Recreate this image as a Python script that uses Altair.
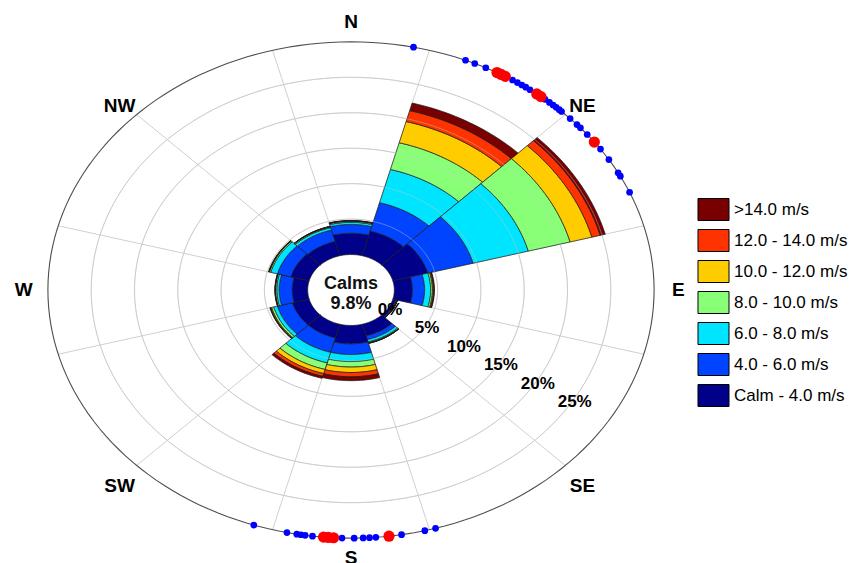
import math
import altair as alt
import pandas as pd

# ---------------- data ----------------
directions = [0, 30, 60, 90, 120, 150, 180, 210, 240, 270, 300, 330]
speed_bins = ["Calm - 4.0 m/s", "4.0 - 6.0 m/s", "6.0 - 8.0 m/s", "8.0 - 10.0 m/s",
              "10.0 - 12.0 m/s", "12.0 - 14.0 m/s", ">14.0 m/s"]
bin_colors = ["#000088", "#0044ff", "#00e5ff", "#88ff77", "#ffcc00", "#ff3300", "#780000"]

# frequency (%) of each speed class per direction sector
freq_calm_4 = [3.0, 3.6, 4.2, 2.1, 0.35, 1.7, 2.6, 2.0, 2.0, 1.8, 2.2, 2.1]
freq_4_6 = [1.25, 4.15, 5.4, 1.4, 0.1, 0.55, 1.5, 2.1, 1.8, 1.5, 1.6, 1.65]
freq_6_8 = [0.3, 4.85, 6.6, 0.7, 0.05, 0.35, 1.0, 1.55, 0.45, 0.27, 0.8, 0.35]
freq_8_10 = [0.15, 3.9, 5.0, 0.2, 0.02, 0.12, 0.77, 0.95, 0.25, 0.14, 0.15, 0.12]
freq_10_12 = [0.04, 3.1, 2.6, 0.1, 0.01, 0.04, 0.77, 0.6, 0.1, 0.04, 0.05, 0.04]
freq_12_14 = [0.03, 1.6, 1.0, 0.07, 0.01, 0.02, 0.6, 0.4, 0.06, 0.02, 0.03, 0.02]
freq_14 = [0.03, 1.1, 0.6, 0.07, 0.01, 0.02, 0.55, 0.3, 0.04, 0.02, 0.03, 0.02]
freq_lists = [freq_calm_4, freq_4_6, freq_6_8, freq_8_10, freq_10_12, freq_12_14, freq_14]

calms_pct = 9.8
ring_pcts = [5, 10, 15, 20, 25]
ring_label_pcts = [0, 5, 10, 15, 20, 25]
outer_pct = 30

cardinal_labels = ["N", "E", "S", "W"]
cardinal_deg = [0, 90, 180, 270]
diagonal_labels = ["NE", "SE", "SW", "NW"]
diagonal_deg = [45, 135, 225, 315]

blue_dot_deg = [11.9, 22.2, 24.1, 26.4, 32.2, 33.3, 34.3, 35.2, 36.2, 39.8, 40.9, 41.8,
                42.6, 43.4, 44.0, 46.3, 48.2, 49.2, 51.2, 55.4, 58.3, 61.8, 62.7, 66.8,
                163.8, 165.9, 170.4, 175.3, 176.5, 177.7, 179.4, 181.7, 187.3, 188.7,
                189.5, 190.3, 192.2, 198.7]
red_dot_deg = [28.8, 29.7, 30.6, 37.8, 38.8, 53.4, 172.8, 183.3, 184.3, 185.2]

# ---------------- geometry ----------------
HOLE = 5.0          # radial units reserved for the calm circle (0 %)
SECTOR_W = 30.0
W, H = 841, 556
CX, CY = 343.0, 282.0
KX, KY = 8.66, 7.09
XDOM = [-CX / KX, (W - CX) / KX]
YDOM = [-(H - CY) / KY, CY / KY]
LABEL_U = 37.8
RING_LABEL_DEG = 121.5
FONT = "Liberation Sans"


def pol(u, deg):
    a = math.radians(deg)
    return u * math.sin(a), u * math.cos(a)


xs = alt.Scale(domain=XDOM, nice=False, zero=False)
ys = alt.Scale(domain=YDOM, nice=False, zero=False)
X = alt.X("x:Q", scale=xs, axis=None)
Y = alt.Y("y:Q", scale=ys, axis=None)

# bar polygons
rows = []
NSEG = 24
for i, d in enumerate(directions):
    cum = 0.0
    for b, vals in enumerate(freq_lists):
        v = vals[i]
        r_in, r_out = HOLE + cum, HOLE + cum + v
        cum += v
        pid = f"{i}-{b}"
        idx = 0
        for k in range(NSEG + 1):
            a = d - SECTOR_W / 2 + SECTOR_W * k / NSEG
            x, y = pol(r_out, a)
            rows.append({"pid": pid, "idx": idx, "x": x, "y": y, "bin": speed_bins[b]})
            idx += 1
        for k in range(NSEG, -1, -1):
            a = d - SECTOR_W / 2 + SECTOR_W * k / NSEG
            x, y = pol(r_in, a)
            rows.append({"pid": pid, "idx": idx, "x": x, "y": y, "bin": speed_bins[b]})
            idx += 1
bars_df = pd.DataFrame(rows)

legend_order = speed_bins[::-1]
color_scale = alt.Scale(domain=legend_order, range=bin_colors[::-1])

bars = alt.Chart(bars_df).mark_line(
    interpolate="linear-closed", stroke="#1a1a1a", strokeWidth=0.7
).encode(
    x=X, y=Y,
    fill=alt.Fill("bin:N", scale=color_scale, legend=alt.Legend(
        title=None, orient="none", legendX=694, legendY=190,
        symbolType="M-1.41,-1H1.41V1H-1.41Z", symbolSize=484,
        symbolStrokeColor="black", symbolStrokeWidth=1, symbolOpacity=1,
        labelFont=FONT, labelFontSize=17, labelColor="black",
        rowPadding=4, labelOffset=9, labelLimit=300)),
    detail="pid:N",
    order="idx:Q",
)

# ring grid
ring_rows = []
for p in ring_pcts:
    for k in range(0, 361, 2):
        x, y = pol(HOLE + p, k)
        ring_rows.append({"ring": p, "idx": k, "x": x, "y": y})
ring_df = pd.DataFrame(ring_rows)
rings = alt.Chart(ring_df).mark_line(stroke="#d0d0d0", strokeWidth=1).encode(
    x=X, y=Y, detail="ring:N", order="idx:Q")
rings_over = alt.Chart(ring_df).mark_line(stroke="#c8c8c8", strokeWidth=0.8, opacity=0.55).encode(
    x=X, y=Y, detail="ring:N", order="idx:Q")

outer_rows = []
for k in range(0, 361, 2):
    x, y = pol(HOLE + outer_pct, k)
    outer_rows.append({"idx": k, "x": x, "y": y})
outer = alt.Chart(pd.DataFrame(outer_rows)).mark_line(stroke="#4d4d4d", strokeWidth=1.1).encode(
    x=X, y=Y, order="idx:Q")

spoke_rows = []
for k in range(12):
    a = 15 + 30 * k
    x1, y1 = pol(HOLE, a)
    x2, y2 = pol(HOLE + outer_pct, a)
    spoke_rows.append({"x": x1, "y": y1, "x2": x2, "y2": y2})
spokes = alt.Chart(pd.DataFrame(spoke_rows)).mark_rule(stroke="#d0d0d0", strokeWidth=1).encode(
    x=X, y=Y, x2="x2:Q", y2="y2:Q")

# dots on the outer ellipse
blue_df = pd.DataFrame([dict(zip(("x", "y"), pol(HOLE + outer_pct, a))) for a in blue_dot_deg])
red_df = pd.DataFrame([dict(zip(("x", "y"), pol(HOLE + outer_pct, a))) for a in red_dot_deg])
blue_dots = alt.Chart(blue_df).mark_circle(color="#0000ff", opacity=1, size=45).encode(x=X, y=Y)
red_dots = alt.Chart(red_df).mark_circle(color="#ff0000", opacity=1, size=125).encode(x=X, y=Y)

# compass labels
card_df = pd.DataFrame([{"x": pol(LABEL_U, a)[0], "y": pol(LABEL_U, a)[1], "t": t}
                        for a, t in zip(cardinal_deg, cardinal_labels)])
diag_df = pd.DataFrame([{"x": pol(LABEL_U, a)[0], "y": pol(LABEL_U, a)[1], "t": t}
                        for a, t in zip(diagonal_deg, diagonal_labels)])
cardinal = alt.Chart(card_df).mark_text(font=FONT, fontSize=19, fontWeight="bold", color="black",
                                        baseline="middle", align="center").encode(x=X, y=Y, text="t:N")
diagonal = alt.Chart(diag_df).mark_text(font=FONT, fontSize=19, fontWeight="bold", color="black",
                                        baseline="middle", align="center", dy=6).encode(x=X, y=Y, text="t:N")

# ring labels
rl_df = pd.DataFrame([{"x": pol(HOLE + p + 0.3, RING_LABEL_DEG)[0],
                       "y": pol(HOLE + p + 0.3, RING_LABEL_DEG)[1], "t": f"{p}%"}
                      for p in ring_label_pcts])
ring_labels = alt.Chart(rl_df).mark_text(font=FONT, fontSize=17, fontWeight="bold", color="black",
                                         baseline="middle", align="center").encode(x=X, y=Y, text="t:N")

# calms
calm_df = pd.DataFrame([{"x": 0.0, "y": 0.0, "a": "Calms", "b": f"{calms_pct}%"}])
calm1 = alt.Chart(calm_df).mark_text(font=FONT, fontSize=18, fontWeight="bold", color="#111",
                                     baseline="middle", align="center", dy=-6).encode(x=X, y=Y, text="a:N")
calm2 = alt.Chart(calm_df).mark_text(font=FONT, fontSize=18, fontWeight="bold", color="#111",
                                     baseline="middle", align="center", dy=14).encode(x=X, y=Y, text="b:N")

chart = alt.layer(
    rings, spokes, bars, rings_over, outer, blue_dots, red_dots,
    cardinal, diagonal, ring_labels, calm1, calm2
).properties(
    width=W, height=H, padding=0, autosize=alt.AutoSizeParams(type="none")
).configure_view(stroke=None)

chart.save("out.html", embed_options={"renderer": "svg", "actions": False})
